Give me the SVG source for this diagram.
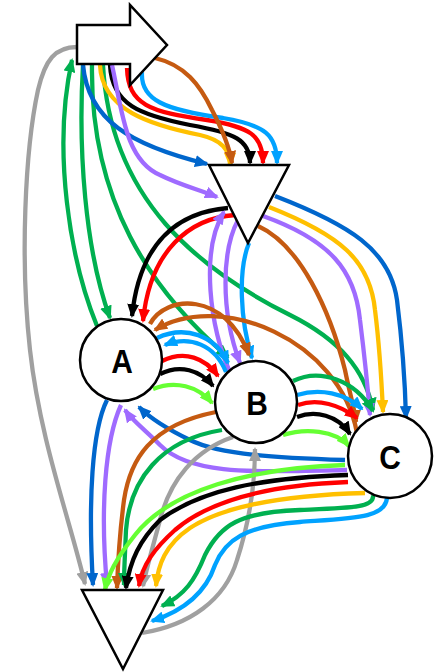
<svg xmlns="http://www.w3.org/2000/svg" width="438" height="672" viewBox="0 0 438 672">
  <style>
    .e{fill:none;stroke-width:4.3;stroke-linecap:butt}
    .db{stroke:#0066CC}.lb{stroke:#00A2FF}.rd{stroke:#FF0000}.bk{stroke:#000}
    .yl{stroke:#FFC000}.br{stroke:#C55A11}.pu{stroke:#9F6BFF}.gn{stroke:#00B050}
    .lg{stroke:#66FF33}.gy{stroke:#A0A0A0}
    .node{fill:#fff;stroke:#000;stroke-width:2.5;stroke-linejoin:miter}
    .lbl{font-family:"Liberation Sans",Arial,sans-serif;font-weight:bold;font-size:34px;text-anchor:middle}
  </style>
  <defs>
    <marker id="a-db" viewBox="0 0 14 12" refX="12" refY="6" markerWidth="14" markerHeight="12" markerUnits="userSpaceOnUse" orient="auto"><path d="M0,0L14,6L0,12Z" fill="#0066CC"/></marker>
    <marker id="a-lb" viewBox="0 0 14 12" refX="12" refY="6" markerWidth="14" markerHeight="12" markerUnits="userSpaceOnUse" orient="auto"><path d="M0,0L14,6L0,12Z" fill="#00A2FF"/></marker>
    <marker id="a-rd" viewBox="0 0 14 12" refX="12" refY="6" markerWidth="14" markerHeight="12" markerUnits="userSpaceOnUse" orient="auto"><path d="M0,0L14,6L0,12Z" fill="#FF0000"/></marker>
    <marker id="a-bk" viewBox="0 0 14 12" refX="12" refY="6" markerWidth="14" markerHeight="12" markerUnits="userSpaceOnUse" orient="auto"><path d="M0,0L14,6L0,12Z" fill="#000"/></marker>
    <marker id="a-yl" viewBox="0 0 14 12" refX="12" refY="6" markerWidth="14" markerHeight="12" markerUnits="userSpaceOnUse" orient="auto"><path d="M0,0L14,6L0,12Z" fill="#FFC000"/></marker>
    <marker id="a-br" viewBox="0 0 14 12" refX="12" refY="6" markerWidth="14" markerHeight="12" markerUnits="userSpaceOnUse" orient="auto"><path d="M0,0L14,6L0,12Z" fill="#C55A11"/></marker>
    <marker id="a-pu" viewBox="0 0 14 12" refX="12" refY="6" markerWidth="14" markerHeight="12" markerUnits="userSpaceOnUse" orient="auto"><path d="M0,0L14,6L0,12Z" fill="#9F6BFF"/></marker>
    <marker id="a-gn" viewBox="0 0 14 12" refX="12" refY="6" markerWidth="14" markerHeight="12" markerUnits="userSpaceOnUse" orient="auto"><path d="M0,0L14,6L0,12Z" fill="#00B050"/></marker>
    <marker id="a-lg" viewBox="0 0 14 12" refX="12" refY="6" markerWidth="14" markerHeight="12" markerUnits="userSpaceOnUse" orient="auto"><path d="M0,0L14,6L0,12Z" fill="#66FF33"/></marker>
    <marker id="a-gy" viewBox="0 0 14 12" refX="12" refY="6" markerWidth="14" markerHeight="12" markerUnits="userSpaceOnUse" orient="auto"><path d="M0,0L14,6L0,12Z" fill="#A0A0A0"/></marker>
  </defs>

  <g id="connectors">
    <!-- edges leaving / entering the start arrow -->
    <path class="e gy" marker-end="url(#a-gy)" d="M77,47 C55,47 45,60 38,90 C25,150 20,260 30,350 C40,440 70,520 85,584"/>
    <path class="e gn" marker-end="url(#a-gn)" d="M97,326 C70,260 52,150 72,60"/>
    <path class="e gn" marker-end="url(#a-gn)" d="M83,65 C78,150 85,250 110,318"/>
    <path class="e gn" marker-end="url(#a-gn)" d="M92,65 C90,200 150,290 228,357"/>
    <path class="e gn" marker-end="url(#a-gn)" d="M103,65 C110,200 200,270 290,315 C340,340 365,370 373,410"/>
    <path class="e db" marker-end="url(#a-db)" d="M83,65 C88,120 130,145 207,164"/>
    <path class="e yl" marker-end="url(#a-yl)" d="M100,65 C102,110 150,125 200,135 C222,140 230,150 230,165"/>
    <path class="e bk" marker-end="url(#a-bk)" d="M110,65 C112,105 140,115 190,125 C235,133 250,140 250,163"/>
    <path class="e rd" marker-end="url(#a-rd)" d="M127,68 C128,105 150,112 207,120 C250,127 263,135 263,163"/>
    <path class="e lb" marker-end="url(#a-lb)" d="M142,72 C140,100 165,110 223,118 C265,125 277,135 277,163"/>
    <path class="e br" marker-end="url(#a-br)" d="M155,58 C185,65 200,85 212,110 C225,135 230,150 232,163"/>
    <path class="e pu" marker-end="url(#a-pu)" d="M112,65 C122,110 125,160 160,175 C180,185 200,190 217,197"/>

    <!-- middle triangle -->
    <path class="e bk" marker-end="url(#a-bk)" d="M228,208 C180,212 140,240 132,316"/>
    <path class="e rd" marker-end="url(#a-rd)" d="M235,215 C190,218 150,250 143,321"/>
    <path class="e pu" marker-end="url(#a-pu)" d="M230,372 C210,330 200,250 224,212"/>
    <path class="e pu" marker-end="url(#a-pu)" d="M238,220 C222,250 220,310 240,363"/>
    <path class="e lb" marker-end="url(#a-lb)" d="M249,243 C238,270 240,320 252,358"/>
    <path class="e br" marker-end="url(#a-br)" d="M258,226 C300,245 330,310 345,370 C350,395 355,410 356,422"/>
    <path class="e pu" marker-end="url(#a-pu)" d="M263,216 C330,240 355,270 360,320 C365,360 368,390 370,415"/>
    <path class="e yl" marker-end="url(#a-yl)" d="M269,207 C340,235 370,260 375,310 C380,350 382,390 383,412"/>
    <path class="e db" marker-end="url(#a-db)" d="M275,196 C350,225 390,250 397,300 C402,340 405,380 406,418"/>

    <!-- between A and B, and into A -->
    <path class="e lb" marker-end="url(#a-lb)" d="M157,338 C185,325 215,335 228,363"/>
    <path class="e lb" marker-end="url(#a-lb)" d="M226,372 C215,345 190,335 165,345"/>
    <path class="e rd" marker-end="url(#a-rd)" d="M162,361 C185,350 205,358 218,376"/>
    <path class="e bk" marker-end="url(#a-bk)" d="M160,374 C180,364 200,370 213,386"/>
    <path class="e lg" marker-end="url(#a-lg)" d="M153,389 C175,380 198,386 212,403"/>
    <path class="e br" marker-end="url(#a-br)" d="M150,324 C165,295 225,290 249,355"/>
    <path class="e br" marker-end="url(#a-br)" d="M357,433 C340,340 220,290 155,330"/>
    <path class="e db" marker-end="url(#a-db)" d="M107,400 C92,430 88,500 93,585"/>
    <path class="e pu" marker-end="url(#a-pu)" d="M121,405 C105,440 100,510 107,585"/>
    <path class="e pu" marker-end="url(#a-pu)" d="M347,470 C250,472 190,475 160,445 C145,430 132,420 125,410"/>
    <path class="e db" marker-end="url(#a-db)" d="M345,460 C280,458 220,455 190,440 C165,428 150,418 139,407"/>

    <!-- B outgoing / incoming -->
    <path class="e br" marker-end="url(#a-br)" d="M216,412 C150,425 130,460 124,500 C120,530 118,560 117,588"/>
    <path class="e gn" marker-end="url(#a-gn)" d="M222,430 C160,440 130,480 126,530 C125,555 124,570 124,585"/>
    <path class="e gy" marker-end="url(#a-gy)" d="M233,437 C195,450 170,480 160,520 C152,550 146,570 143,586"/>
    <path class="e gy" marker-end="url(#a-gy)" d="M142,633 C190,625 225,600 237,560 C250,520 255,480 255,449"/>
    <path class="e gn" marker-end="url(#a-gn)" d="M293,381 C320,368 355,380 373,411"/>
    <path class="e lb" marker-end="url(#a-lb)" d="M297,395 C320,388 345,393 362,409"/>
    <path class="e rd" marker-end="url(#a-rd)" d="M298,405 C318,398 340,405 357,418"/>
    <path class="e bk" marker-end="url(#a-bk)" d="M297,417 C315,410 338,415 350,434"/>
    <path class="e lg" marker-end="url(#a-lg)" d="M283,435 C305,428 335,430 349,446"/>

    <!-- C to the bottom triangle -->
    <path class="e lg" marker-end="url(#a-lg)" d="M345,465 C250,468 170,490 135,535 C115,560 108,575 105,590"/>
    <path class="e bk" marker-end="url(#a-bk)" d="M348,475 C260,478 200,490 160,520 C140,540 130,560 126,588"/>
    <path class="e rd" marker-end="url(#a-rd)" d="M348,482 C270,485 210,500 175,530 C155,548 142,565 139,586"/>
    <path class="e yl" marker-end="url(#a-yl)" d="M365,493 C290,495 225,505 190,528 C165,545 158,565 156,586"/>
    <path class="e gn" marker-end="url(#a-gn)" d="M373,495 C375,508 350,508 300,510 C240,512 220,525 205,555 C195,580 185,595 162,606"/>
    <path class="e lb" marker-end="url(#a-lb)" d="M387,498 C385,518 355,518 300,522 C245,526 225,540 215,565 C205,595 180,612 152,621"/>
  </g>

  <g id="start">
    <path class="node" d="M77,25 H130 V5 L167,45 L130,85 V64 H77 Z"/>
  </g>
  <g id="merge">
    <path class="node" d="M209,165 L289,165 L248,243 Z"/>
  </g>
  <g id="node-a">
    <circle class="node" cx="121" cy="360" r="41"/>
    <text class="lbl" transform="translate(122,373) scale(0.88,1)">A</text>
  </g>
  <g id="node-b">
    <circle class="node" cx="256" cy="402" r="41"/>
    <text class="lbl" transform="translate(257,415) scale(0.88,1)">B</text>
  </g>
  <g id="node-c">
    <circle class="node" cx="390" cy="456" r="42"/>
    <text class="lbl" transform="translate(390,469) scale(0.88,1)">C</text>
  </g>
  <g id="end">
    <path class="node" d="M82,590 L163,590 L123,669 Z"/>
  </g>
</svg>
